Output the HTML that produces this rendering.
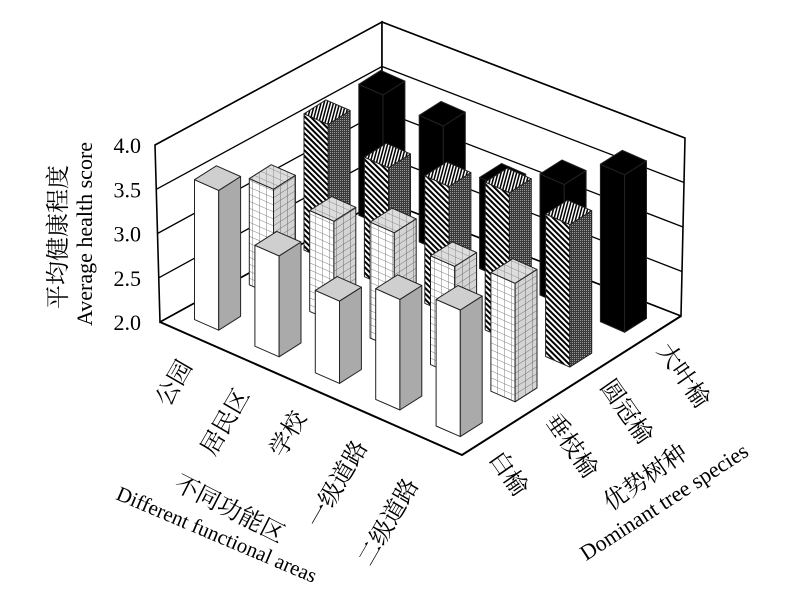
<!DOCTYPE html>
<html><head><meta charset="utf-8"><style>
html,body{margin:0;padding:0;background:#fff;}
svg{display:block;font-family:"Liberation Serif","Noto Serif CJK SC","Noto Sans CJK SC",serif;}
</style></head><body>
<svg id="chart" width="800" height="611" viewBox="0 0 800 611" xmlns="http://www.w3.org/2000/svg">
<defs>
<pattern id="gridL" patternUnits="userSpaceOnUse" width="7" height="7" patternTransform="skewY(23.8)"><rect width="7" height="7" fill="#fff"/><path d="M0 0V7M0 0H7" stroke="#777" stroke-width="0.9"/></pattern>
<pattern id="gridR" patternUnits="userSpaceOnUse" width="7" height="7" patternTransform="skewY(-32.4)"><rect width="7" height="7" fill="#d4d4d4"/><path d="M0 0V7M0 0H7" stroke="#666" stroke-width="0.9"/></pattern>
<pattern id="gridT" patternUnits="userSpaceOnUse" width="7" height="7" patternTransform="skewY(23.8)"><rect width="7" height="7" fill="#ddd"/><path d="M0 0V7M0 0H7" stroke="#888" stroke-width="0.9"/></pattern>
<pattern id="hatchL" patternUnits="userSpaceOnUse" width="4" height="4" patternTransform="rotate(-45)"><rect width="4" height="4" fill="#fff"/><rect width="2" height="4" fill="#000"/></pattern>
<pattern id="hatchR" patternUnits="userSpaceOnUse" width="2" height="2"><rect width="2" height="2" fill="#3a3a3a"/><rect width="1" height="1" fill="#9a9a9a"/></pattern>
<pattern id="hatchT" patternUnits="userSpaceOnUse" width="3" height="3" patternTransform="rotate(15)"><rect width="3" height="3" fill="#fff"/><rect width="1.5" height="3" fill="#000"/></pattern>
</defs>
<g id="walls"></g>
<g id="bars"></g>
<g id="labels">
<text transform="translate(66,237) rotate(-90)" text-anchor="middle" font-size="24">平均健康程度</text>
<text transform="translate(92,234) rotate(-90)" text-anchor="middle" font-size="22">Average health score</text>
<text transform="translate(226,516) rotate(27)" text-anchor="middle" font-size="24">不同功能区</text>
<text transform="translate(214,541) rotate(23)" text-anchor="middle" font-size="21">Different functional areas</text>
<text transform="translate(650,484) rotate(-35)" text-anchor="middle" font-size="24">优势树种</text>
<text transform="translate(668,508) rotate(-33)" text-anchor="middle" font-size="22">Dominant tree species</text>
</g>
</svg>
<script>
const areas = ["公园","居民区","学校","一级道路","二级道路"];
const species = ["白榆","垂枝榆","圆冠榆","大叶榆"];
const whiteElm = [3.58, 3.14, 2.93, 3.25, 3.43];
const weepingElm = [3.20, 3.14, 3.31, 3.23, 3.34];
const roundElm = [3.54, 3.35, 3.44, 3.67, 3.61];
const bigLeafElm = [3.48, 3.43, 3.03, 3.37, 3.78];
const yTicks = [2.0, 2.5, 3.0, 3.5, 4.0];

const NS = "http://www.w3.org/2000/svg";
const series = [whiteElm, weepingElm, roundElm, bigLeafElm];
const fills = [["#fff","#aaa","#cfcfcf"],["url(#gridL)","url(#gridR)","url(#gridT)"],["url(#hatchL)","url(#hatchR)","url(#hatchT)"],["#000","#000","#000"]];
const L = [160,322], Av = [302/5,133/5], Bv = [219/4,-139/4];
const yMin = 2, yMax = 4, pxPerUnit = 88.5;
function floorPt(a,b){ return [L[0]+a*Av[0]+b*Bv[0], L[1]+a*Av[1]+b*Bv[1]]; }
function hOf(v){ return (v-yMin)*pxPerUnit; }
function mk(tag, attrs){ const e=document.createElementNS(NS,tag); for(const k in attrs) e.setAttribute(k,attrs[k]); return e; }
function pts(a){ return a.map(p=>p[0].toFixed(1)+","+p[1].toFixed(1)).join(" "); }

// walls
const walls = document.getElementById("walls");
const leftTop=[155,145], leftBot=[160,322], backTop=[382,22], backBot=[382,200], rightTop=[685,138], rightBot=[681,316], front=[462,455];
function lerp(p,q,t){ return [p[0]+(q[0]-p[0])*t, p[1]+(q[1]-p[1])*t]; }
let wl = mk("polygon",{points:pts([leftBot,backBot,backTop,leftTop]),fill:"#fff",stroke:"#000","stroke-width":1.6});


walls.appendChild(wl);
let wr = mk("polygon",{points:pts([backBot,rightBot,rightTop,backTop]),fill:"#fff",stroke:"#000","stroke-width":1.6});


walls.appendChild(wr);
yTicks.forEach(v=>{
  const t=(v-yMin)/(yMax-yMin);
  const a=lerp(leftBot,leftTop,t), b=lerp(backBot,backTop,t), c=lerp(rightBot,rightTop,t);
  const g=mk("polyline",{points:pts([a,b,c]),fill:"none",stroke:"#000","stroke-width":1.3});
  
  
  walls.appendChild(g);
  const tx=mk("text",{x:141,y:(a[1]+8).toFixed(1),"text-anchor":"end","font-size":22});
  tx.textContent=v.toFixed(1);
  
  
  document.getElementById("labels").appendChild(tx);
});
const fl=mk("polyline",{points:pts([leftBot,front,rightBot]),fill:"none",stroke:"#000","stroke-width":2});


walls.appendChild(fl);

// bars
const barsG=document.getElementById("bars");
const list=[];
for(let i=0;i<areas.length;i++) for(let j=0;j<species.length;j++) list.push([i,j,floorPt(i+0.5,j+0.5)]);
list.sort((p,q)=>p[2][1]-q[2][1]);
const w=0.2;
list.forEach(([i,j,c])=>{
  const v=series[j][i], h=hOf(v);
  const off=(sa,sb)=>[c[0]+sa*w*Av[0]+sb*w*Bv[0], c[1]+sa*w*Av[1]+sb*w*Bv[1]];
  const lf=off(-1,-1), fr=off(1,-1), rt=off(1,1), bk=off(-1,1);
  const up=p=>[p[0],p[1]-h];
  const g=mk("g",{});
  
  
  const st={stroke:"#222","stroke-width":1,"stroke-linejoin":"round"};
  g.appendChild(mk("polygon",Object.assign({points:pts([lf,fr,up(fr),up(lf)]),fill:fills[j][0]},st)));
  g.appendChild(mk("polygon",Object.assign({points:pts([fr,rt,up(rt),up(fr)]),fill:fills[j][1]},st)));
  g.appendChild(mk("polygon",Object.assign({points:pts([up(lf),up(fr),up(rt),up(bk)]),fill:fills[j][2]},st)));
  barsG.appendChild(g);
});

// category labels
const labs=document.getElementById("labels");
const areaPos=[[181,379],[232,418],[295,430],[344,480],[395,518]];
areas.forEach((a,i)=>{
  const t=mk("text",{transform:`translate(${areaPos[i][0]},${areaPos[i][1]+8}) rotate(-60)`,"text-anchor":"middle","font-size":24});
  t.textContent=a;
  
  
  labs.appendChild(t);
});
const spPos=[[507,474],[570,446],[625,412],[682,376]];
species.forEach((s,j)=>{
  const t=mk("text",{transform:`translate(${spPos[j][0]-5},${spPos[j][1]+4}) rotate(55)`,"text-anchor":"middle","font-size":24});
  t.textContent=s;
  
  
  labs.appendChild(t);
});
</script>
</body></html>
